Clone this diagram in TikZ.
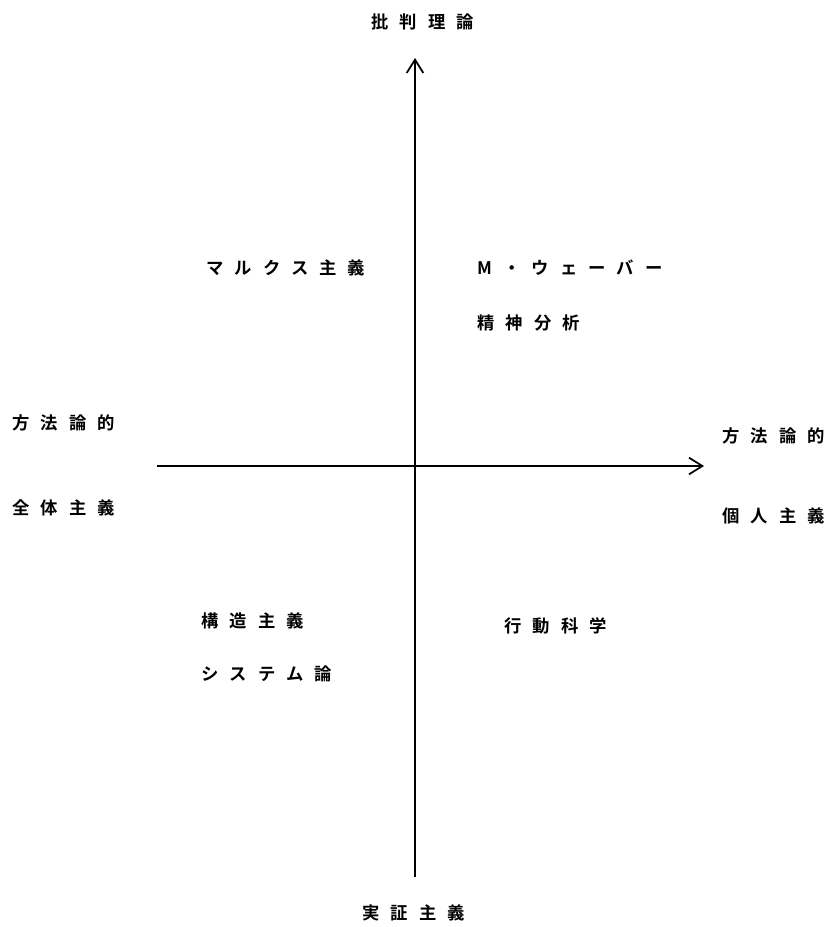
\documentclass[tikz,border=0pt]{standalone}
\usepackage{fontspec}
\usepackage{tikz}
\usetikzlibrary{arrows.meta, positioning}
\newfontfamily\jpfont[LetterSpace=64]{Noto Sans CJK JP Bold}

\begin{document}
\begin{tikzpicture}[x=0.03cm, y=-0.03cm,
    label/.style={font=\jpfont\fontsize{14.8pt}{17pt}\selectfont, anchor=west, inner sep=0pt},
    axis/.style={line width=1.4pt, -{Straight Barb[length=4mm, width=5mm, line width=1.5pt]}}]
    % Frame
    \useasboundingbox (0,0) rectangle (826,927);

    % Axis ends
    \coordinate (vbot) at (415,877);
    \coordinate (vtop) at (415,58);
    \coordinate (hleft) at (157,466);
    \coordinate (hright) at (704,466);

    % Axes
    \draw[axis] (vbot) -- (vtop);
    \draw[axis] (hleft) -- (hright);

    % Axis labels
    \node[label] (critical) at (371,22) {批判理論};
    \node[label] (positivism) at (362,913) {実証主義};
    \node[label] (methleft) at (12,423) {方法論的};
    \node[label] (holism) at (12,508) {全体主義};
    \node[label] (methright) at (722,436) {方法論的};
    \node[label] (individ) at (722,516) {個人主義};

    % Quadrants
    \node[label] (marx) at (206,268) {マルクス主義};
    \node[label] (weber) at (477,268) {M・ウェーバー};
    \node[label] (psycho) at (477,323) {精神分析};
    \node[label] (struct) at (201,621) {構造主義};
    \node[label] (system) at (201,674) {システム論};
    \node[label] (behav) at (504,626) {行動科学};
\end{tikzpicture}
\end{document}
